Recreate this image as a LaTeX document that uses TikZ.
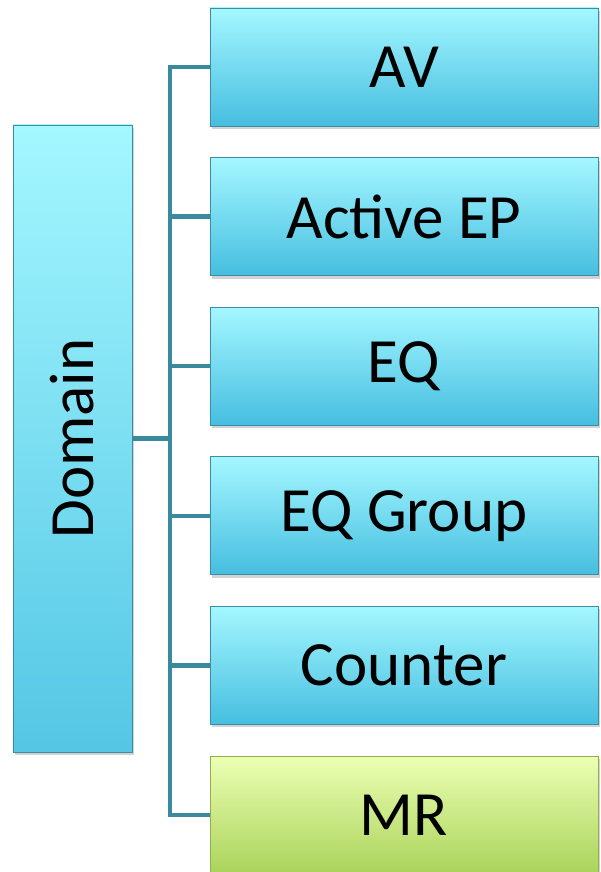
\documentclass[tikz,border=0pt]{standalone}
\usepackage{fontspec}
\setmainfont{Carlito}
\usetikzlibrary{positioning,shadows}

\definecolor{boxtop}{HTML}{A4F7FF}
\definecolor{boxbot}{HTML}{46BEE0}
\definecolor{boxedge}{HTML}{3B8DA6}
\definecolor{mrtop}{HTML}{ECFFB4}
\definecolor{mrbot}{HTML}{AAD35A}
\definecolor{mredge}{HTML}{8FB24C}
\definecolor{linkcol}{HTML}{3A8A9E}

\tikzset{
  bigtext/.style={font=\fontsize{63}{70}\selectfont},
  dombox/.style={rectangle, minimum width=119pt, minimum height=627pt,
    top color=boxtop, bottom color=boxbot!85!boxtop, draw=boxedge, line width=0.8pt,
    drop shadow={opacity=0.35, shadow xshift=2pt, shadow yshift=-3pt}},
  item/.style={rectangle, minimum width=388pt, minimum height=118pt,
    top color=boxtop, bottom color=boxbot, draw=boxedge, line width=0.8pt,
    drop shadow={opacity=0.35, shadow xshift=2pt, shadow yshift=-3pt}, bigtext},
  itemmr/.style={item, top color=mrtop, bottom color=mrbot, draw=mredge},
  link/.style={draw=linkcol, line width=4.5pt}
}

\begin{document}
\begin{tikzpicture}[x=1pt,y=1pt,node distance=30.8pt]
  \useasboundingbox (0,0) rectangle (600,-872);

  \node[dombox] (dom) at (72.5,-438.5) {};
  \node[bigtext, rotate=90] (domtext) at (dom.center) {Domain};

  \node[item]   (av)  at (404,-67)   {AV};
  \node[item]   (ep)  [below=of av]  {Active EP};
  \node[item]   (eq)  [below=of ep]  {EQ};
  \node[item]   (eqg) [below=of eq]  {EQ Group};
  \node[item]   (ctr) [below=of eqg] {Counter};
  \node[itemmr] (mr)  [below=of ctr] {MR};

  \coordinate (trunk) at (170,-438.5);

  % tree lines
  \draw[link] (dom.east) -- (trunk);
  \draw[link] (av.west) -| (trunk) |- (mr.west);
  \foreach \n in {ep,eq,eqg,ctr}
    \draw[link] (trunk |- \n.west) -- (\n.west);
\end{tikzpicture}
\end{document}
